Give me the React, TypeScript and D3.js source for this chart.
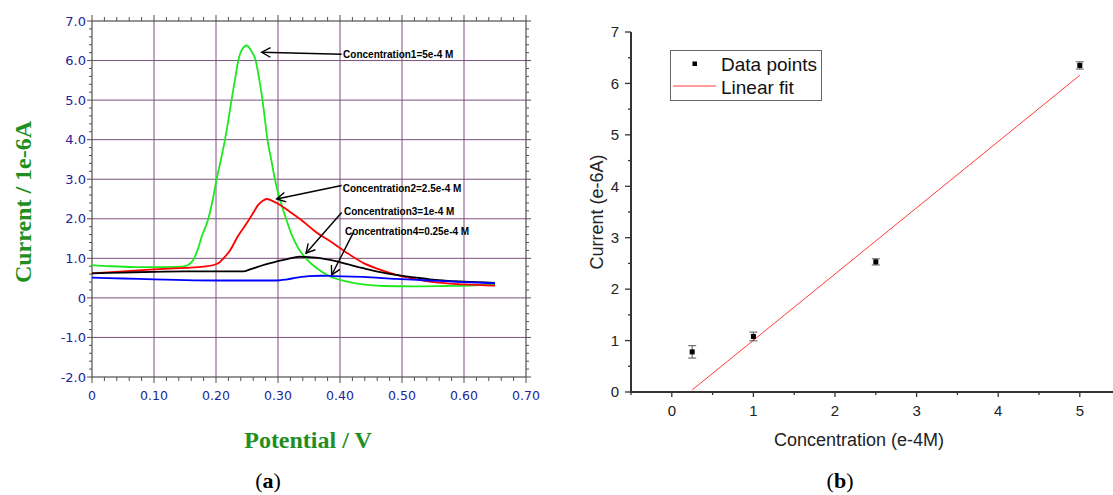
import React from 'react';
import * as d3 from 'd3';

type Pt = [number, number];

const W = 1113;
const H = 495;

// ---------- Panel (a): voltammograms (potential V, current 1e-6 A) ----------
const conc1: Pt[] = [
  [0, 0.83], [0.03, 0.8], [0.07, 0.78], [0.12, 0.78], [0.145, 0.79], [0.155, 0.83], [0.163, 0.95],
  [0.17, 1.2], [0.177, 1.55], [0.1876, 2.0], [0.195, 2.5], [0.201, 3.0], [0.208, 3.5], [0.2145, 4.0],
  [0.22, 4.5], [0.225, 5.0], [0.231, 5.55], [0.236, 6.0], [0.241, 6.25], [0.2495, 6.38], [0.257, 6.24],
  [0.264, 6.0], [0.27, 5.5], [0.275, 5.0], [0.279, 4.5], [0.283, 4.0], [0.289, 3.5], [0.295, 3.0],
  [0.303, 2.5], [0.313, 2.0], [0.322, 1.6], [0.333, 1.25], [0.345, 1.0], [0.36, 0.78], [0.384, 0.54],
  [0.41, 0.42], [0.437, 0.34], [0.47, 0.3], [0.52, 0.29], [0.57, 0.3], [0.61, 0.31], [0.65, 0.34],
];
const conc2: Pt[] = [
  [0, 0.62], [0.05, 0.67], [0.1, 0.72], [0.15, 0.76], [0.18, 0.79], [0.2, 0.85], [0.206, 0.9],
  [0.212, 1.0], [0.2226, 1.2], [0.235, 1.55], [0.25, 1.9], [0.26, 2.15], [0.268, 2.35], [0.275, 2.45],
  [0.282, 2.5], [0.29, 2.46], [0.3, 2.38], [0.319, 2.18], [0.335, 2.0], [0.36, 1.68], [0.389, 1.38],
  [0.41, 1.15], [0.438, 0.88], [0.46, 0.74], [0.491, 0.58], [0.52, 0.48], [0.545, 0.41], [0.6, 0.34],
  [0.65, 0.31],
];
const conc3: Pt[] = [
  [0, 0.62], [0.05, 0.64], [0.1, 0.66], [0.15, 0.67], [0.2, 0.67], [0.244, 0.67], [0.255, 0.72],
  [0.266, 0.78], [0.28, 0.85], [0.298, 0.92], [0.315, 0.98], [0.335, 1.04], [0.35, 1.03], [0.37, 1.0],
  [0.384, 0.96], [0.41, 0.86], [0.4376, 0.75], [0.465, 0.65], [0.49, 0.58], [0.52, 0.52], [0.545, 0.47],
  [0.6, 0.41], [0.65, 0.38],
];
const conc4: Pt[] = [
  [0, 0.51], [0.05, 0.49], [0.1, 0.47], [0.15, 0.45], [0.2, 0.44], [0.25, 0.44], [0.3, 0.44],
  [0.315, 0.47], [0.33, 0.51], [0.35, 0.55], [0.37, 0.56], [0.39, 0.55], [0.42, 0.54], [0.4376, 0.53],
  [0.49, 0.48], [0.545, 0.44], [0.6, 0.4], [0.65, 0.37],
];
const seriesA = [conc1, conc2, conc3, conc4];
const seriesAColors = ['#1ee81e', '#ff0000', '#000000', '#0000ff'];

const annotationLabels = [
  'Concentration1=5e-4 M',
  'Concentration2=2.5e-4 M',
  'Concentration3=1e-4 M',
  'Concentration4=0.25e-4 M',
];
// arrow tail / tip and text anchor, in data units (V, 1e-6 A)
const arrowTails: Pt[] = [[0.4027, 6.16], [0.4027, 2.84], [0.4027, 2.16], [0.4215, 1.65]];
const arrowTips: Pt[] = [[0.2737, 6.21], [0.2979, 2.5], [0.3452, 1.13], [0.3866, 0.58]];
const labelAnchors: Pt[] = [[0.405, 6.07], [0.4043, 2.68], [0.4065, 2.1], [0.408, 1.59]];

const yTicksA = [-2, -1, 0, 1, 2, 3, 4, 5, 6, 7];
const yTickLabelsA = ['-2.0', '-1.0', '0', '1.0', '2.0', '3.0', '4.0', '5.0', '6.0', '7.0'];
const xTicksA = [0, 0.1, 0.2, 0.3, 0.4, 0.5, 0.6, 0.7];
const xTickLabelsA = ['0', '0.10', '0.20', '0.30', '0.40', '0.50', '0.60', '0.70'];

// ---------- Panel (b): calibration ----------
const concentrations = [0.25, 1, 2.5, 5];
const currents = [0.78, 1.08, 2.53, 6.35];
const currentErrors = [0.12, 0.085, 0.06, 0.07];
const fitSlope = 1.288;
const fitIntercept = -0.282;
const fitRange = [0.25, 5];
const xTicksB = [0, 1, 2, 3, 4, 5];
const yTicksB = [0, 1, 2, 3, 4, 5, 6, 7];

const GREEN = '#1f8f1f';
const BLUE_TXT = '#23239a';
const GRID = '#7d4f7d';
const FRAME = '#505050';

function arrowHead(tip: Pt, tail: Pt, len = 10, ang = 0.5) {
  const a = Math.atan2(tail[1] - tip[1], tail[0] - tip[0]);
  const p1 = [tip[0] + len * Math.cos(a + ang), tip[1] + len * Math.sin(a + ang)];
  const p2 = [tip[0] + len * Math.cos(a - ang), tip[1] + len * Math.sin(a - ang)];
  return `M${p1[0]},${p1[1]}L${tip[0]},${tip[1]}L${p2[0]},${p2[1]}`;
}

export default function App() {
  const xA = d3.scaleLinear().domain([0, 0.7]).range([92, 526]);
  const yA = d3.scaleLinear().domain([-2, 7]).range([377, 21]);
  const lineA = d3
    .line<Pt>()
    .x((d) => xA(d[0]))
    .y((d) => yA(d[1]))
    .curve(d3.curveMonotoneX);
  const minorX = d3.range(0, 0.7001, 0.02);
  const minorY = d3.range(-2, 7.001, 0.2);

  const xB = d3.scaleLinear().domain([-0.5, 5.4]).range([631, 631 + 5.9 * 81.6]);
  const yB = d3.scaleLinear().domain([0, 7]).range([392, 32]);
  const minorXB = d3.range(-0.5, 5.41, 0.5);
  const minorYB = d3.range(0, 7.01, 0.5);
  const fitLine = d3
    .line<number>()
    .x((d) => xB(d))
    .y((d) => yB(fitIntercept + fitSlope * d));

  const [x0, x1] = xA.range();
  const [y0, y1] = yA.range();

  return (
    <svg width={W} height={H} style={{ position: 'absolute', left: 0, top: 0, background: '#fff' }}>
      {/* ===== Panel (a) ===== */}
      <rect x={x0} y={y1} width={x1 - x0} height={y0 - y1} fill="#fff" />
      {xTicksA.slice(1, -1).map((t) => (
        <line key={'gx' + t} x1={xA(t)} x2={xA(t)} y1={y1} y2={y0} stroke={GRID} strokeWidth={1} />
      ))}
      {yTicksA.slice(1, -1).map((t) => (
        <line key={'gy' + t} x1={x0} x2={x1} y1={yA(t)} y2={yA(t)} stroke={GRID} strokeWidth={1} />
      ))}
      {minorX.map((t, i) => {
        const major = i % 5 === 0;
        const L = major ? 6 : 4;
        return (
          <g key={'mx' + i}>
            <line x1={xA(t)} x2={xA(t)} y1={y0} y2={y0 + L} stroke={FRAME} />
            <line x1={xA(t)} x2={xA(t)} y1={y1} y2={y1 - L} stroke={FRAME} />
          </g>
        );
      })}
      {minorY.map((t, i) => {
        const major = i % 5 === 0;
        const L = major ? 5 : 3;
        return (
          <g key={'my' + i}>
            <line x1={x0} x2={x0 - L} y1={yA(t)} y2={yA(t)} stroke={FRAME} />
            <line x1={x1} x2={x1 + L} y1={yA(t)} y2={yA(t)} stroke={FRAME} />
          </g>
        );
      })}
      <rect x={x0} y={y1} width={x1 - x0} height={y0 - y1} fill="none" stroke={FRAME} strokeWidth={1.2} />
      {seriesA.map((s, i) => (
        <path key={'s' + i} d={lineA(s) || ''} fill="none" stroke={seriesAColors[i]} strokeWidth={1.8} />
      ))}
      {annotationLabels.map((lab, i) => {
        const tail: Pt = [xA(arrowTails[i][0]), yA(arrowTails[i][1])];
        const tip: Pt = [xA(arrowTips[i][0]), yA(arrowTips[i][1])];
        return (
          <g key={'an' + i}>
            <line x1={tail[0]} y1={tail[1]} x2={tip[0]} y2={tip[1]} stroke="#000" strokeWidth={1.4} />
            <path d={arrowHead(tip, tail)} fill="none" stroke="#000" strokeWidth={1.4} />
            <text
              x={xA(labelAnchors[i][0])}
              y={yA(labelAnchors[i][1])}
              fontFamily="Liberation Sans, Arial, sans-serif"
              fontWeight="bold"
              fontSize={10}
              fill="#000"
            >
              {lab}
            </text>
          </g>
        );
      })}
      {yTicksA.map((t, i) => (
        <text
          key={'yl' + t}
          x={x0 - 6}
          y={yA(t)}
          dy="0.36em"
          textAnchor="end"
          fontFamily="DejaVu Sans, sans-serif"
          fontSize={13}
          fill={BLUE_TXT}
        >
          {yTickLabelsA[i]}
        </text>
      ))}
      {xTicksA.map((t, i) => (
        <text
          key={'xl' + t}
          x={xA(t)}
          y={y0 + 23}
          textAnchor="middle"
          fontFamily="DejaVu Sans, sans-serif"
          fontSize={12.5}
          fill={BLUE_TXT}
        >
          {xTickLabelsA[i]}
        </text>
      ))}
      <text
        x={308}
        y={448}
        textAnchor="middle"
        fontFamily="Liberation Serif, Times New Roman, serif"
        fontWeight="bold"
        fontSize={24}
        fill={GREEN}
      >
        Potential / V
      </text>
      <text
        transform="translate(31,202) rotate(-90)"
        textAnchor="middle"
        fontFamily="Liberation Serif, Times New Roman, serif"
        fontWeight="bold"
        fontSize={24}
        fill={GREEN}
      >
        Current / 1e-6A
      </text>
      <text x={268} y={488} textAnchor="middle" fontFamily="Liberation Serif, serif" fontSize={22} fill="#000">
        (<tspan fontWeight="bold">a</tspan>)
      </text>

      {/* ===== Panel (b) ===== */}
      <line x1={xB(-0.5)} x2={W} y1={yB(0)} y2={yB(0)} stroke="#333" strokeWidth={2} />
      <line x1={xB(-0.5)} x2={xB(-0.5)} y1={yB(0) + 1} y2={yB(7)} stroke="#333" strokeWidth={2} />
      {minorXB.map((t, i) => (
        <line
          key={'bx' + i}
          x1={xB(t)}
          x2={xB(t)}
          y1={yB(0)}
          y2={yB(0) + (i % 2 === 1 ? 5 : 3)}
          stroke="#333"
          strokeWidth={1.3}
        />
      ))}
      {minorYB.map((t, i) => (
        <line
          key={'by' + i}
          x1={xB(-0.5)}
          x2={xB(-0.5) - (i % 2 === 0 ? 6 : 3)}
          y1={yB(t)}
          y2={yB(t)}
          stroke="#333"
          strokeWidth={1.3}
        />
      ))}
      {xTicksB.map((t) => (
        <text
          key={'bxl' + t}
          x={xB(t)}
          y={yB(0) + 24}
          textAnchor="middle"
          fontFamily="Liberation Sans, Arial, sans-serif"
          fontSize={15}
          fill="#222"
        >
          {t}
        </text>
      ))}
      {yTicksB.map((t) => (
        <text
          key={'byl' + t}
          x={xB(-0.5) - 12}
          y={yB(t)}
          dy="0.35em"
          textAnchor="end"
          fontFamily="Liberation Sans, Arial, sans-serif"
          fontSize={15}
          fill="#222"
        >
          {t}
        </text>
      ))}
      <path d={fitLine(fitRange) || ''} fill="none" stroke="#ff3b3b" strokeWidth={1} />
      {concentrations.map((c, i) => {
        const cx = xB(c);
        const cy = yB(currents[i]);
        const top = yB(currents[i] + currentErrors[i]);
        const bot = yB(currents[i] - currentErrors[i]);
        return (
          <g key={'pt' + i}>
            <line x1={cx} x2={cx} y1={top} y2={bot} stroke="#555" strokeWidth={1} />
            <line x1={cx - 4} x2={cx + 4} y1={top} y2={top} stroke="#555" strokeWidth={1} />
            <line x1={cx - 4} x2={cx + 4} y1={bot} y2={bot} stroke="#555" strokeWidth={1} />
            <rect x={cx - 2.5} y={cy - 2.5} width={5} height={5} fill="#000" />
          </g>
        );
      })}
      <text
        x={859}
        y={446}
        textAnchor="middle"
        fontFamily="Liberation Sans, Arial, sans-serif"
        fontSize={18}
        fill="#222"
      >
        Concentration (e-4M)
      </text>
      <text
        transform="translate(603,212) rotate(-90)"
        textAnchor="middle"
        fontFamily="Liberation Sans, Arial, sans-serif"
        fontSize={18}
        fill="#222"
      >
        Current (e-6A)
      </text>
      <rect x={670.5} y={50.5} width={151} height={50} fill="#fff" stroke="#666" strokeWidth={1} />
      <rect x={692.5} y={61.5} width={4.5} height={4.5} fill="#000" />
      <line x1={673} x2={716} y1={86} y2={86} stroke="#ff3b3b" strokeWidth={1} />
      <text x={721} y={70.5} fontFamily="Liberation Sans, Arial, sans-serif" fontSize={19} fill="#111">
        Data points
      </text>
      <text x={721} y={93.5} fontFamily="Liberation Sans, Arial, sans-serif" fontSize={19} fill="#111">
        Linear fit
      </text>
      <text x={840} y={488} textAnchor="middle" fontFamily="Liberation Serif, serif" fontSize={22} fill="#000">
        (<tspan fontWeight="bold">b</tspan>)
      </text>
    </svg>
  );
}
